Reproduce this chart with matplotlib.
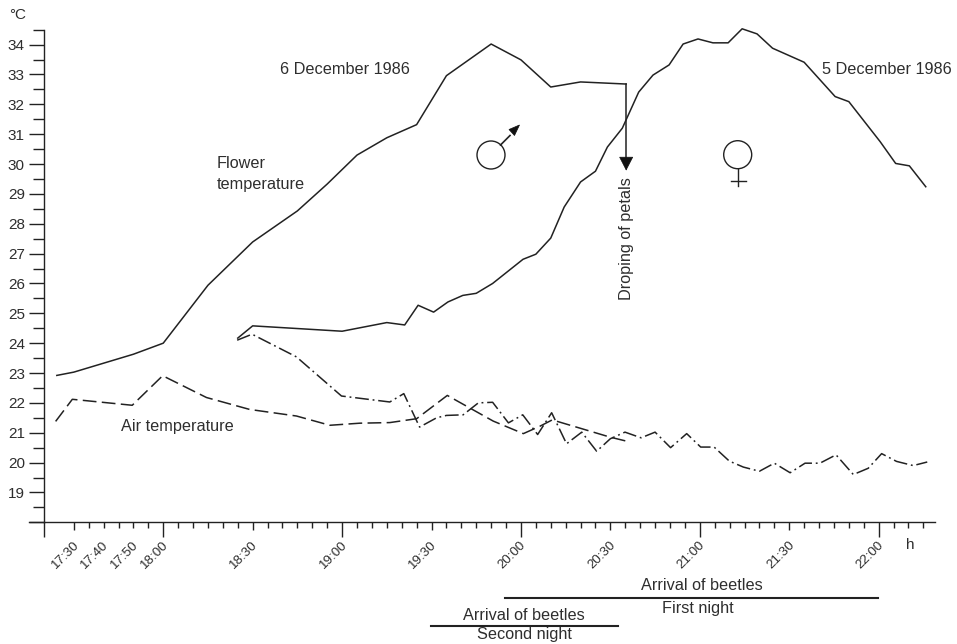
import matplotlib
matplotlib.use("Agg")
import matplotlib.pyplot as plt
from matplotlib.patches import Circle
from matplotlib.transforms import Affine2D, ScaledTranslation

plt.rcParams['font.family'] = ['Liberation Sans', 'DejaVu Sans']

# time in minutes after 17:00, temperature in degrees C
male_t = [24.3, 30, 50, 60, 75, 90, 105, 115, 125, 135, 145, 155, 170, 180, 190, 200, 215.3]
male_T = [22.92, 23.03, 23.63, 24.0, 25.94, 27.39, 28.43, 29.33, 30.3, 30.88, 31.32, 32.96, 34.02, 33.49, 32.58, 32.75, 32.68]

female_t = [85, 90, 120, 135, 141, 145.5, 150.7, 155.5, 160.5, 165, 170.5, 180.7, 185, 190, 194.5, 200, 205, 209, 214,
            219.5, 224.3, 229.7, 234.4, 239.4, 244.4, 249.5, 254.2, 259.2, 264.4, 275, 285.4, 290, 300.5, 305.7, 310.3, 315.8]
female_T = [24.17, 24.58, 24.4, 24.69, 24.61, 25.27, 25.04, 25.38, 25.6, 25.67, 26.0, 26.81, 26.98, 27.52, 28.56, 29.4, 29.76, 30.57, 31.2,
            32.41, 32.98, 33.32, 34.02, 34.19, 34.06, 34.06, 34.53, 34.36, 33.88, 33.41, 32.26, 32.09, 30.75, 30.02, 29.94, 29.24]

air_male_t = [23.9, 29.5, 49.6, 59.8, 74.5, 89, 104.7, 115.9, 126, 136, 145, 155.3, 170.7, 180.8, 186.4, 190.5, 210, 216.6]
air_male_T = [21.38, 22.12, 21.92, 22.91, 22.18, 21.78, 21.56, 21.25, 21.32, 21.34, 21.47, 22.25, 21.39, 20.97, 21.22, 21.43, 20.85, 20.69]

air_female_t = [84.8, 89.8, 104.7, 119.8, 136, 140.7, 146, 151.7, 155, 160.6, 165.7, 170.5, 175.8, 180.6, 185.6, 190.3, 195.3, 200.4, 205.4,
                210, 214.9, 220.3, 225, 230.2, 235.6, 240.3, 244.8, 249.9, 254.6, 260, 265, 270.3, 275.3, 280.3, 285.7, 291.5, 296.5, 301, 306, 311.6, 316.3]
air_female_T = [24.1, 24.3, 23.54, 22.23, 22.03, 22.31, 21.19, 21.5, 21.58, 21.6, 22.0, 22.02, 21.33, 21.6, 20.94, 21.67, 20.63, 21.02, 20.38,
                20.8, 21.02, 20.83, 21.02, 20.5, 20.97, 20.52, 20.52, 20.05, 19.85, 19.71, 19.98, 19.66, 19.98, 19.98, 20.26, 19.6, 19.81, 20.3, 20.04, 19.9, 20.02]

labelled_ticks = {30: "17:30", 40: "17:40", 50: "17:50", 60: "18:00", 90: "18:30", 120: "19:00", 150: "19:30",
                  180: "20:00", 210: "20:30", 240: "21:00", 270: "21:30", 300: "22:00"}
long_ticks = [20, 60, 120, 180, 240, 300]
mid_ticks = [30, 90, 150, 210, 270]
tick_times = [20] + list(range(30, 320, 5))
y_major = list(range(18, 35))
y_labels = ['' if v == 18 else str(v) for v in y_major]
y_minor = [v + 0.5 for v in range(18, 35)]

drop_time, drop_from, drop_to = 215.3, 32.68, 29.78
first_night = (174.7, 299.8)
second_night = (149.8, 212.4)

INK = '#222222'
TXT = '#2e2e2e'
FS = 11.7

fig = plt.figure(figsize=(9.57, 6.44), dpi=100)
ax = fig.add_axes([44 / 957, 1 - 522.3 / 644, (935 - 44) / 957, (522.3 - 29.7) / 644])
ax.set_xlim(20, 318.9)
ax.set_ylim(18, 34.5)
for s in ('top', 'right'):
    ax.spines[s].set_visible(False)
for s in ('left', 'bottom'):
    ax.spines[s].set_linewidth(1.0)
    ax.spines[s].set_color(INK)

P = 0.72
lw = 1.1
ax.plot(male_t, male_T, color=INK, lw=lw, clip_on=False)
ax.plot(female_t, female_T, color=INK, lw=lw, clip_on=False)
ax.plot(air_male_t, air_male_T, color=INK, lw=lw, ls=(0, (9, 3.5)), clip_on=False)
ax.plot(air_female_t, air_female_T, color=INK, lw=lw, ls=(0, (9, 2.5, 1.2, 2.5)), clip_on=False)

# drop of petals arrow
ax.plot([drop_time, drop_time], [drop_from, drop_to + 0.2], color=INK, lw=lw)
ax.annotate('', xy=(drop_time, drop_to), xytext=(drop_time, drop_to + 0.4),
            arrowprops=dict(arrowstyle='-|>,head_length=0.7,head_width=0.36', color='#111111', lw=0.5,
                            shrinkA=0, shrinkB=0, mutation_scale=13))

# axes ticks
ax.set_yticks(y_major, y_labels, fontsize=11, color=TXT)
ax.set_yticks(y_minor, minor=True)
ax.tick_params(axis='y', which='major', length=15 * P, width=1.0, pad=3, color=INK)
ax.tick_params(axis='y', which='minor', length=11 * P, width=1.0, color=INK)

ax.set_xticks(tick_times, [labelled_ticks.get(t, '') for t in tick_times], fontsize=9.6, color=TXT,
              rotation=45, ha='right', va='top', rotation_mode='anchor')
ax.tick_params(axis='x', which='major', length=8 * P, width=1.0, pad=6, color=INK)
shift = ScaledTranslation(-1 / 100, 0, fig.dpi_scale_trans)
for t, tick in zip(tick_times, ax.xaxis.get_major_ticks()):
    if t in long_ticks:
        tick.tick1line.set_markersize(14.5 * P)
    elif t in mid_ticks:
        tick.tick1line.set_markersize(8 * P)
    else:
        tick.tick1line.set_markersize(5.5 * P)
    tick.label1.set_transform(tick.label1.get_transform() + shift)

# extend the x-axis line left of the y-axis
pxt = Affine2D().scale(1, -1).translate(0, 644)
fig.add_artist(plt.Line2D([29, 44], [522.3, 522.3], color=INK, lw=1.0, transform=pxt))

# arrival bars
btr = ax.get_xaxis_transform()
ax.plot(first_night, [-0.153, -0.153], color=INK, lw=1.5, transform=btr, clip_on=False)
ax.plot(second_night, [-0.2105, -0.2105], color=INK, lw=1.5, transform=btr, clip_on=False)


def label(x, y, s, **kw):
    kw.setdefault('ha', 'left')
    kw.setdefault('va', 'center')
    fig.text(x, y, s, transform=pxt, fontsize=kw.pop('fontsize', FS), color=TXT, **kw)


label(9, 15, '°C', fontsize=11)
label(280, 69, '6 December 1986')
label(822.5, 69, '5 December 1986')
label(217, 163.5, 'Flower')
label(217, 184, 'temperature')
label(121, 426.5, 'Air temperature')
label(627, 239, 'Droping of petals', rotation=90, ha='center')
label(701.5, 585.5, 'Arrival of beetles', ha='center')
label(697.5, 608, 'First night', ha='center')
label(524, 615, 'Arrival of beetles', ha='center')
label(524, 635, 'Second night', ha='center')
label(910, 545, 'h', ha='center', fontsize=11)

# sex symbols
fig.add_artist(Circle((491, 155), 14, fill=False, ec=INK, lw=1.0, transform=pxt))
fig.add_artist(plt.Line2D([500.5, 510], [145, 135.5], color=INK, lw=1.2, transform=pxt))
fig.add_artist(plt.Polygon([(519.5, 125), (509, 129.5), (514.5, 135.5)], closed=True, fc='#111111', ec='#111111', lw=0.5, transform=pxt))
fig.add_artist(Circle((737.7, 154.7), 14, fill=False, ec=INK, lw=1.0, transform=pxt))
fig.add_artist(plt.Line2D([737.7, 737.7], [168.7, 186], color=INK, lw=1.0, transform=pxt))
fig.add_artist(plt.Line2D([730.7, 746], [180.7, 180.7], color=INK, lw=1.0, transform=pxt))

fig.savefig('out.png', dpi=100)
